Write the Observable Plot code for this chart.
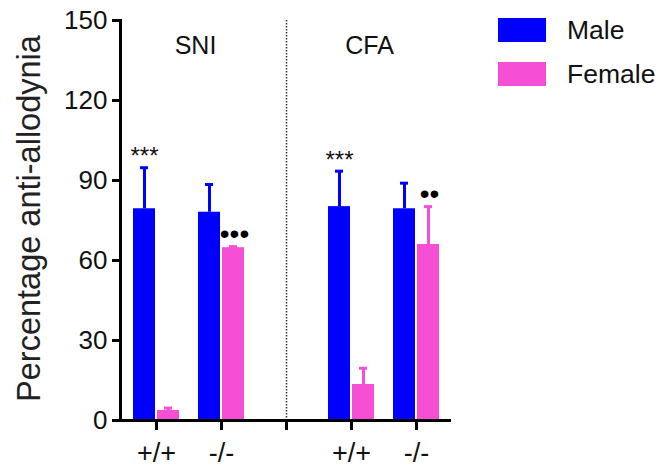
<!DOCTYPE html>
<html><head><meta charset="utf-8">
<script src="https://cdn.jsdelivr.net/npm/d3@7"></script>
<script src="https://cdn.jsdelivr.net/npm/@observablehq/plot@0.6"></script>
<style>
html,body{margin:0;padding:0;background:#fff;}
#wrap{position:relative;width:665px;height:467px;font-family:"Liberation Sans",Arial,sans-serif;}
.lg{position:absolute;left:498px;display:flex;align-items:center;}
.sw{width:48px;height:24px;margin-right:21px;}
.lt{font-size:26.5px;color:#111;line-height:24px;}
</style></head><body><div id="wrap"></div>
<script>
// ---- data ----
const treatments = ["SNI", "SNI", "CFA", "CFA"];
const genotypes = ["+/+", "-/-", "+/+", "-/-"];
const sexes = ["Male", "Female"];
const maleMean = [79.4, 78.1, 80.2, 79.4];
const maleErr = [15.4, 10.4, 13.3, 9.6];
const femaleMean = [3.75, 64.8, 13.5, 66.0];
const femaleErr = [0.9, 0.4, 6.1, 14.2];
const maleSig = ["***", "", "***", ""];
const femaleSig = ["", "\u2022\u2022\u2022", "", "\u2022\u2022"];
const yTicks = [0, 30, 60, 90, 120, 150];
const yTitle = "Percentage anti-allodynia";
const colors = ["#0000ff", "#f54fd6"];
const gapKey = "gap";

// ---- build tables ----
const keys = treatments.map((t, i) => t + "|" + genotypes[i]);
const xDomain = [keys[0], keys[1], gapKey, keys[2], keys[3]];
const male = keys.map((k, i) => ({key: k, sex: sexes[0], mean: maleMean[i], err: maleErr[i], sig: maleSig[i]}));
const female = keys.map((k, i) => ({key: k, sex: sexes[1], mean: femaleMean[i], err: femaleErr[i], sig: femaleSig[i]}));

const plot = Plot.plot({
  width: 665, height: 467,
  marginLeft: 120, marginRight: 214, marginTop: 20, marginBottom: 47,
  style: {fontFamily: "'Liberation Sans', Arial, sans-serif", fontSize: "26px", color: "#111", background: "#fff"},
  x: {type: "band", domain: xDomain, paddingInner: 0.295, paddingOuter: 0.184, axis: null},
  y: {domain: [0, 150], axis: null},
  marks: [
    Plot.barY(male, {x: "key", y: "mean", fill: colors[0], insetRight: 24}),
    Plot.barY(female, {x: "key", y: "mean", fill: colors[1], insetLeft: 24}),
    Plot.ruleX(male, {x: "key", y1: "mean", y2: d => d.mean + d.err, stroke: colors[0], strokeWidth: 3, dx: -12}),
    Plot.ruleX(female, {x: "key", y1: "mean", y2: d => d.mean + d.err, stroke: colors[1], strokeWidth: 3, dx: 12}),
    Plot.tickY(male, {x: "key", y: d => d.mean + d.err, stroke: colors[0], strokeWidth: 3, insetLeft: 7, insetRight: 31}),
    Plot.tickY(female, {x: "key", y: d => d.mean + d.err, stroke: colors[1], strokeWidth: 3, insetLeft: 31, insetRight: 7}),
    Plot.ruleX([gapKey], {x: d => d, stroke: "#333", strokeWidth: 1.5, strokeDasharray: "1.5,1.5"}),
    Plot.ruleY([0], {stroke: "#000", strokeWidth: 3}),
    Plot.frame({anchor: "left", stroke: "#000", strokeWidth: 3}),
    Plot.axisY({ticks: yTicks, tickSize: 8, tickPadding: 5, strokeWidth: 3, stroke: "#000", fontSize: 26, label: null}),
    Plot.axisX({tickSize: 10, tickPadding: 12, strokeWidth: 3, stroke: "#000", fontSize: 27, label: null,
      tickFormat: d => d === gapKey ? "" : d.split("|")[1]}),
    Plot.text([yTitle], {text: d => d, frameAnchor: "left", rotate: -90, dx: -91, dy: -2, fontSize: 32.5, lineAnchor: "middle", textAnchor: "middle", fill: "#222"}),
    Plot.text([keys[1]], {x: d => d, text: d => d.split("|")[0], frameAnchor: "top", lineAnchor: "middle", dy: 25, dx: -26, fontSize: 25, fill: "#111"}),
    Plot.text([keys[2]], {x: d => d, text: d => d.split("|")[0], frameAnchor: "top", lineAnchor: "middle", dy: 25, dx: 18, fontSize: 25, fill: "#111"}),
    Plot.text(male.filter(d => d.sig), {x: "key", y: d => d.mean + d.err, text: "sig", dx: -12, dy: -11, fontSize: 24, lineAnchor: "middle", fill: "#111"}),
    Plot.text(female.filter(d => d.sig), {x: "key", y: d => d.mean + d.err, text: "sig", dx: 13, dy: -13, fontSize: 28, lineAnchor: "middle", fill: "#000"})
  ]
});
const wrap = document.getElementById("wrap");
wrap.appendChild(plot);
sexes.forEach((s, i) => {
  const row = document.createElement("div");
  row.className = "lg";
  row.style.top = (18 + i * 44) + "px";
  row.innerHTML = `<div class="sw" style="background:${colors[i]}"></div><div class="lt">${s}</div>`;
  wrap.appendChild(row);
});
</script></body></html>
